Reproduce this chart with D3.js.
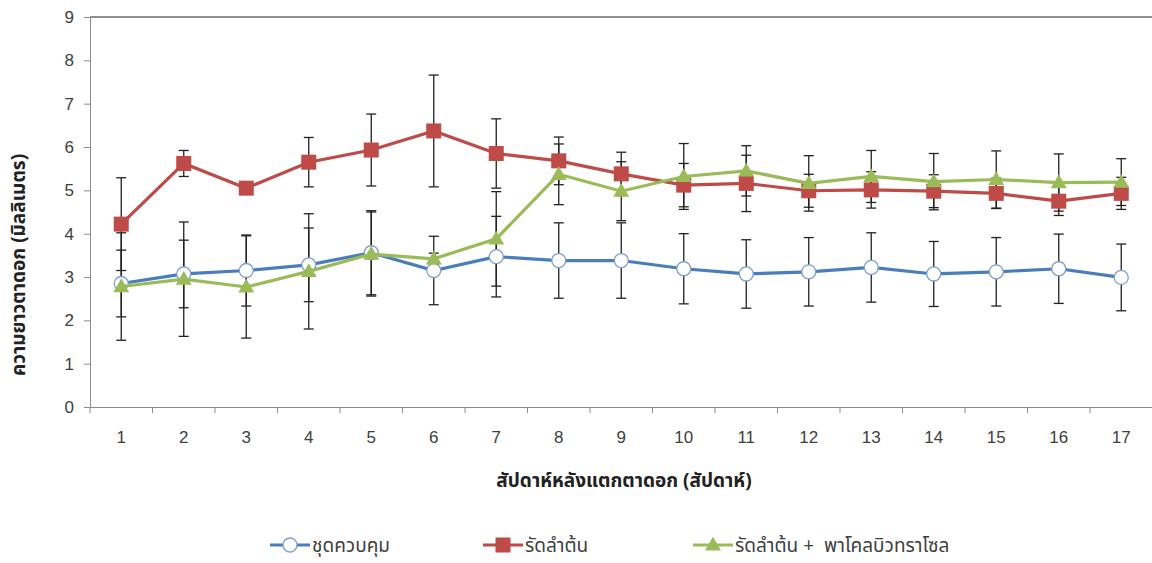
<!DOCTYPE html>
<html>
<head>
<meta charset="utf-8">
<script src="https://cdn.jsdelivr.net/npm/d3@7"></script>
<style>
    body { margin: 0; background: #fff; }
    svg { display: block; font-family: Tahoma, "Noto Sans Thai", "Noto Sans", sans-serif; }
    text { white-space: pre; }
</style>
</head>
<body>
<svg id="chart" width="1152" height="563"></svg>
<script>
// semanas
const weeks = ['1','2','3','4','5','6','7','8','9','10','11','12','13','14','15','16','17'];
const yTicks = [0,1,2,3,4,5,6,7,8,9];

// ชุดควบคุม
const controlMean = [2.85,3.07,3.15,3.28,3.56,3.15,3.47,3.38,3.38,3.19,3.07,3.12,3.22,3.07,3.12,3.19,2.99];
const controlErr  = [0.77,0.78,0.82,0.85,0.97,0.79,0.93,0.87,0.87,0.81,0.79,0.79,0.80,0.75,0.79,0.80,0.77];
// รัดลำต้น
const girdleMean = [4.22,5.62,5.05,5.65,5.93,6.37,5.85,5.68,5.38,5.12,5.16,4.99,5.01,4.98,4.93,4.75,4.93];
const girdleErr  = [1.07,0.30,0.00,0.57,0.83,1.29,0.80,0.55,0.50,0.50,0.65,0.38,0.42,0.38,0.35,0.33,0.37];
// รัดลำต้น + พาโคลบิวทราโซล
const pacloMean = [2.78,2.95,2.77,3.13,3.53,3.42,3.88,5.37,4.98,5.32,5.45,5.16,5.32,5.20,5.25,5.18,5.19];
const pacloErr  = [1.24,1.32,1.18,1.33,0.97,0.13,1.09,0.70,0.68,0.76,0.58,0.64,0.60,0.65,0.66,0.66,0.54];

const series = [
    { name: 'ชุดควบคุม', mean: controlMean, err: controlErr, color: '#4A7EBB', marker: 'circle' },
    { name: 'รัดลำต้น', mean: girdleMean, err: girdleErr, color: '#BE4B48', marker: 'square' },
    { name: 'รัดลำต้น +  พาโคลบิวทราโซล', mean: pacloMean, err: pacloErr, color: '#9BBB59', marker: 'triangle' }
];

const svg = d3.select('#chart');
const margin = { top: 17, right: 0, bottom: 156, left: 90 };
const width = 1152.5 - margin.left;
const height = 563 - margin.top - margin.bottom;

const g = svg.append('g').attr('transform', `translate(${margin.left},${margin.top})`);

const x = d3.scaleBand().domain(weeks).range([0, width]);
const y = d3.scaleLinear().domain([0, 9]).range([height, 0]);
const cx = d => x(d) + x.bandwidth() / 2;

// borde superior
g.append('line')
    .attr('x1', 0).attr('x2', width)
    .attr('y1', y(9)).attr('y2', y(9))
    .attr('stroke', '#6b6b6b').attr('stroke-width', 1.5);

// eje Y
const yAxis = g.append('g')
    .call(d3.axisLeft(y).tickValues(yTicks).tickSize(6).tickPadding(10));
yAxis.select('.domain').attr('stroke', '#8c8c8c');
yAxis.selectAll('.tick line').attr('stroke', '#8c8c8c');
yAxis.selectAll('text').attr('font-size', 17).attr('fill', '#404040');

// eje X con marcas entre categorías
const xAxis = g.append('g')
    .attr('transform', `translate(0,${height})`)
    .call(d3.axisBottom(x).tickSize(0).tickPadding(24));
xAxis.select('.domain').attr('stroke', '#8c8c8c');
xAxis.selectAll('text').attr('font-size', 17).attr('fill', '#404040');
xAxis.selectAll('.boundary')
    .data(d3.range(weeks.length + 1))
    .enter()
    .append('line')
    .attr('x1', i => i * x.step()).attr('x2', i => i * x.step())
    .attr('y1', 0).attr('y2', 6)
    .attr('stroke', '#8c8c8c');

// barras de error
series.forEach(s => {
    const eb = g.append('g').attr('stroke', '#222').attr('stroke-width', 1.3);
    weeks.forEach((w, i) => {
        if (!s.err[i]) return;
        const top = y(s.mean[i] + s.err[i]);
        const bot = y(s.mean[i] - s.err[i]);
        eb.append('line').attr('x1', cx(w)).attr('x2', cx(w)).attr('y1', top).attr('y2', bot);
        eb.append('line').attr('x1', cx(w) - 5).attr('x2', cx(w) + 5).attr('y1', top).attr('y2', top);
        eb.append('line').attr('x1', cx(w) - 5).attr('x2', cx(w) + 5).attr('y1', bot).attr('y2', bot);
    });
});

// dibujar marcador
function drawMarker(sel, type, color) {
    if (type === 'circle') {
        sel.append('circle').attr('r', 7).attr('fill', '#fff')
            .attr('stroke', '#7f9fcf').attr('stroke-width', 1.3);
    } else if (type === 'square') {
        sel.append('rect').attr('x', -7.5).attr('y', -7.5).attr('width', 15).attr('height', 15)
            .attr('fill', color);
    } else {
        sel.append('path').attr('d', d3.symbol(d3.symbolTriangle, 110)()).attr('fill', color)
            .attr('transform', 'translate(0,1)');
    }
}

// líneas y marcadores
const line = d3.line().x(d => cx(d.w)).y(d => y(d.v));
series.forEach(s => {
    const pts = weeks.map((w, i) => ({ w: w, v: s.mean[i] }));
    g.append('path')
        .datum(pts)
        .attr('fill', 'none')
        .attr('stroke', s.color)
        .attr('stroke-width', 3.2)
        .attr('d', line);
    pts.forEach(p => {
        const m = g.append('g').attr('transform', `translate(${cx(p.w)},${y(p.v)})`);
        drawMarker(m, s.marker, s.color);
    });
});

// títulos de ejes
svg.append('text')
    .attr('transform', 'translate(25,265) rotate(-90)')
    .attr('text-anchor', 'middle')
    .attr('font-size', 19).attr('font-weight', 'bold').attr('fill', '#222')
    .text('ความยาวตาดอก (มิลลิเมตร)');

svg.append('text')
    .attr('x', 624).attr('y', 487)
    .attr('text-anchor', 'middle')
    .attr('font-size', 19).attr('font-weight', 'bold').attr('fill', '#222')
    .text('สัปดาห์หลังแตกตาดอก (สัปดาห์)');

// leyenda
const legendX = [270, 483, 693];
series.forEach((s, i) => {
    const lg = svg.append('g').attr('transform', `translate(${legendX[i]},545)`);
    lg.append('line').attr('x1', 0).attr('x2', 40).attr('y1', 0).attr('y2', 0)
        .attr('stroke', s.color).attr('stroke-width', 3.2);
    const m = lg.append('g').attr('transform', 'translate(20,0)');
    drawMarker(m, s.marker, s.color);
    lg.append('text').attr('x', 42).attr('y', 7)
        .attr('font-size', 19).attr('fill', '#404040')
        .text(s.name);
});
</script>
</body>
</html>
